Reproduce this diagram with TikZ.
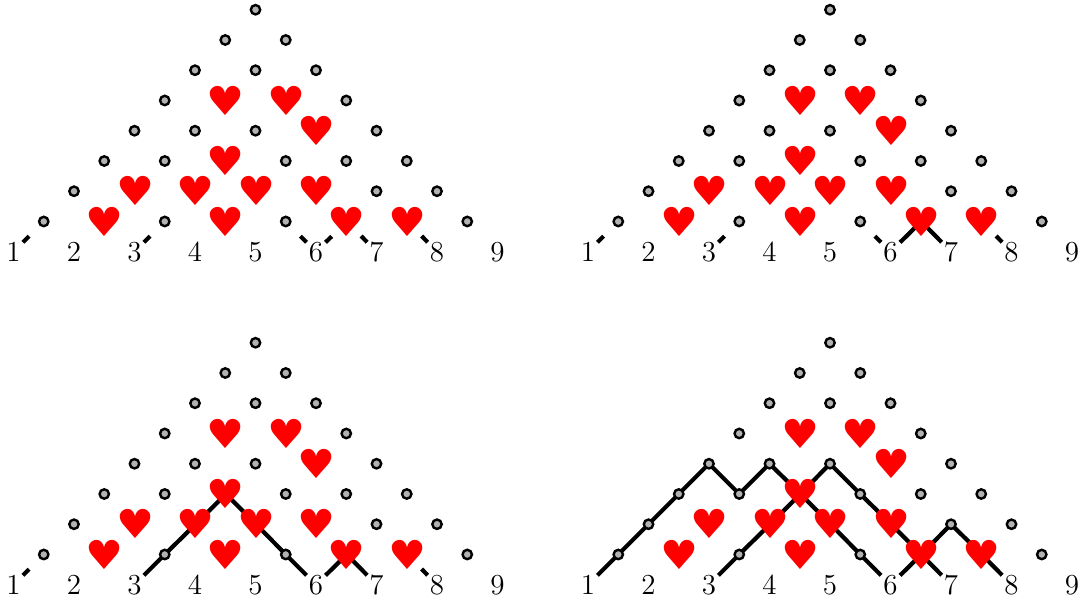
\documentclass[tikz,border=0pt]{standalone}
\usepackage{fontspec}
\usetikzlibrary{calc,backgrounds}
\newfontfamily\heartfont{DejaVu Sans}
\definecolor{dotgray}{gray}{0.7}
\tikzset{
  x=0.5pt,y=0.5pt,
  dotnode/.style={circle,draw=black,fill=dotgray,line width=1.2pt,minimum size=4.7pt,inner sep=0pt},
  heartnode/.style={text=red,inner sep=0pt,xshift=0.3pt,font=\heartfont\fontsize{20}{20}\selectfont},
  labelnode/.style={circle,minimum size=13pt,inner sep=0pt,font=\fontsize{14.5}{14.5}\selectfont},
  pathline/.style={line width=2.1pt,black}
}
\newcommand{\lat}[2]{({13.5+30.25*(#1)},{346.25+30.25*(#2)})}
\newcommand{\panel}[4]{%
  \begin{scope}[shift={(#2,#3)}]
    \foreach \k/\h in {1/1,5/1,9/1,15/1,2/2,12/2,14/2,3/3,5/3,9/3,11/3,13/3,4/4,6/4,8/4,12/4,5/5,11/5,6/6,8/6,10/6,7/7,9/7,8/8}
      \node[dotnode] (#1-\k-\h) at \lat{\k}{\h} {};
    \foreach \k/\h in {3/1,7/1,11/1,13/1,4/2,6/2,8/2,10/2,7/3,10/4,7/5,9/5}
      \node[heartnode] (#1-\k-\h) at \lat{\k}{\h} {\scalebox{1.06}[1]{♥}};
    \foreach \n in {1,...,9}
      \node[labelnode] (#1-l\n) at \lat{2*(\n-1)}{0} {\n};
    \begin{scope}[on background layer]
      #4
    \end{scope}
  \end{scope}}
\newcommand{\stub}[4]{%
  \coordinate (#1-s#2-#3) at ($(#1-l#2)!11pt!(#1-#3-#4)$);
  \draw[pathline] (#1-l#2) -- (#1-s#2-#3);}
\begin{document}
\begin{tikzpicture}
\useasboundingbox (0,0) rectangle (1081,598);
\panel{a}{0}{0}{%
  \stub{a}{1}{1}{1}\stub{a}{3}{5}{1}\stub{a}{6}{9}{1}\stub{a}{6}{11}{1}\stub{a}{7}{11}{1}\stub{a}{8}{13}{1}}
\panel{b}{574.5}{0}{%
  \stub{b}{1}{1}{1}\stub{b}{3}{5}{1}\stub{b}{6}{9}{1}\stub{b}{8}{13}{1}
  \draw[pathline] (b-l6) -- (b-11-1.center) -- (b-l7);}
\panel{c}{0}{-333}{%
  \stub{c}{1}{1}{1}\stub{c}{8}{13}{1}
  \draw[pathline] (c-l3) -- (c-5-1.center) -- (c-6-2.center) -- (c-7-3.center) -- (c-8-2.center) -- (c-9-1.center) -- (c-l6);
  \draw[pathline] (c-l6) -- (c-11-1.center) -- (c-l7);}
\panel{d}{574.5}{-333}{%
  \draw[pathline] (d-l1) -- (d-1-1.center) -- (d-2-2.center) -- (d-3-3.center) -- (d-4-4.center) -- (d-5-3.center) -- (d-6-4.center) -- (d-7-3.center) -- (d-8-2.center) -- (d-9-1.center) -- (d-l6);
  \draw[pathline] (d-l3) -- (d-5-1.center) -- (d-6-2.center) -- (d-7-3.center) -- (d-8-4.center) -- (d-9-3.center) -- (d-10-2.center) -- (d-11-1.center) -- (d-l7);
  \draw[pathline] (d-l6) -- (d-11-1.center) -- (d-12-2.center) -- (d-13-1.center) -- (d-l8);}
\end{tikzpicture}
\end{document}
